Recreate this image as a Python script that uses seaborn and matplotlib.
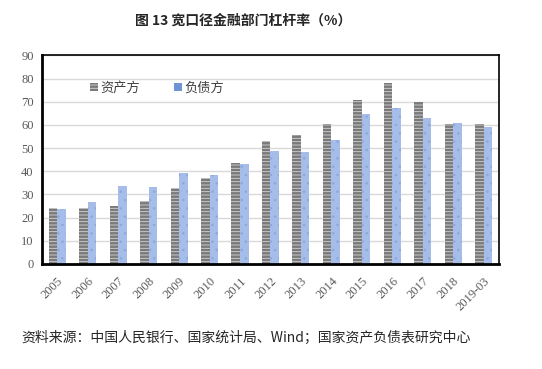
import numpy as np
import pandas as pd
import matplotlib
matplotlib.use("Agg")
import matplotlib.pyplot as plt
import seaborn as sb
from matplotlib.patches import Patch

# data
periods = ['2005', '2006', '2007', '2008', '2009', '2010', '2011', '2012',
           '2013', '2014', '2015', '2016', '2017', '2018', '2019-03']
asset_side = [24.2, 24.2, 25.2, 27.2, 32.8, 37.2, 43.6, 53.0,
              55.6, 60.4, 70.7, 78.1, 70.0, 60.4, 60.4]
liability_side = [23.7, 26.7, 33.6, 33.2, 39.2, 38.4, 43.1, 48.7,
                  48.3, 53.5, 64.7, 67.3, 63.0, 60.8, 59.1]
series_names = ['资产方', '负债方']

df = pd.DataFrame({
    'period': periods * 2,
    'value': asset_side + liability_side,
    'side': [series_names[0]] * len(periods) + [series_names[1]] * len(periods),
})

sb.set_style("white")
plt.rcParams['font.family'] = ['Noto Sans CJK SC', 'DejaVu Sans']
plt.rcParams['hatch.linewidth'] = 0.6

fig = plt.figure(figsize=(5.42, 3.69), dpi=100)
ax = fig.add_axes([0.0775, 0.2846, 0.843, 0.565])

ax.yaxis.grid(True, color='#d9d9d9', linewidth=1.0)
ax.set_axisbelow(True)

sb.barplot(data=df, x='period', y='value', hue='side', ax=ax,
           palette=['#808080', '#a4bbe8'], width=0.56, gap=0.0,
           saturation=1, legend=False)

# hatch styles: grey stripes and faint blue dots
styles = [('#7a7a7a', '#d4d4d4', '-----'), ('#a6bde9', '#8aa8e0', '..')]
for cont, (fc, hc, hatch) in zip(ax.containers, styles):
    for bar in cont:
        bar.set_facecolor(fc)
        bar.set_edgecolor(hc)
        bar.set_hatch(hatch)
        bar.set_linewidth(0)

ax.set_ylim(0, 90)
ax.set_yticks(range(0, 91, 10))
ax.set_xlim(-0.5, len(periods) - 0.5)
ax.set_xlabel('')
ax.set_ylabel('')

for s in ax.spines.values():
    s.set_color('black')
    s.set_linewidth(1.2)
ax.spines['bottom'].set_linewidth(2)
ax.spines['left'].set_linewidth(2)

ax.tick_params(axis='y', direction='in', length=4, width=1.5, color='black',
               labelsize=9, labelcolor='#595959', pad=6)
ax.set_xticks(np.arange(len(periods)))
ax.set_xticklabels(periods, rotation=45, ha='right', rotation_mode='anchor',
                   fontsize=9, color='#595959', family='Liberation Serif')
ax.tick_params(axis='x', length=0, pad=8)
for lab in ax.get_yticklabels():
    lab.set_family('Liberation Serif')
# ticks between categories on the bottom axis
ax.set_xticks(np.arange(len(periods)) + 0.5, minor=True)
ax.tick_params(axis='x', which='minor', direction='in', length=4, width=2,
               color='black')

# legend, no frame
handles = [Patch(facecolor='#7a7a7a', edgecolor='#d4d4d4', hatch='-----', linewidth=0),
           Patch(facecolor='#6f93d6', edgecolor='#4472c4', linewidth=0)]
ax.legend(handles, series_names, loc='upper left', bbox_to_anchor=(0.08, 0.93),
          ncol=2, frameon=False, fontsize=9.5, handlelength=0.55, handleheight=0.55,
          handletextpad=0.2, columnspacing=2.6, labelcolor='#404040')

fig.text(0.448, 0.945, '图 13 宽口径金融部门杠杆率（%）', ha='center', va='center',
         fontsize=10, fontweight='bold')
fig.text(0.04, 0.083, '资料来源：中国人民银行、国家统计局、Wind；国家资产负债表研究中心',
         ha='left', va='center', fontsize=10)

fig.savefig('out.png', dpi=100)
